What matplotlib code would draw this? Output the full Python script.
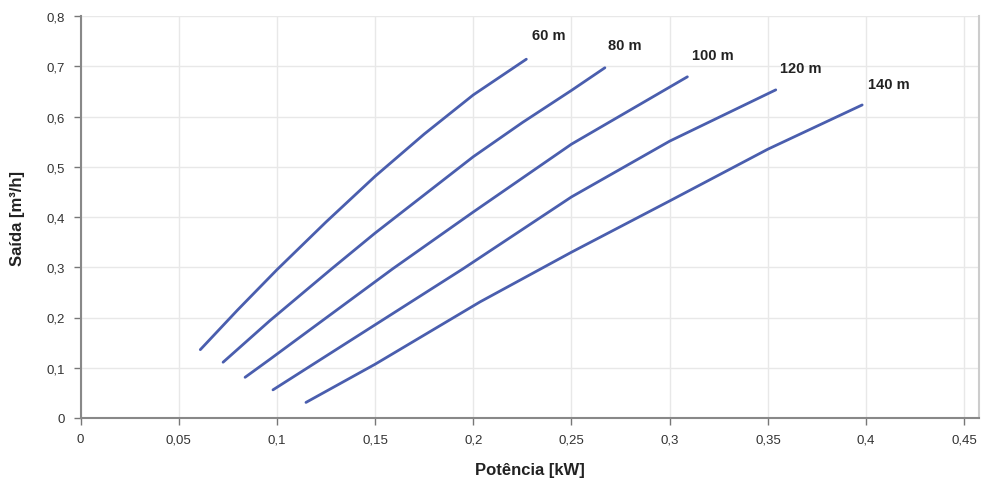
import matplotlib
matplotlib.use("Agg")
import matplotlib.pyplot as plt
from matplotlib.ticker import FuncFormatter

plt.rcParams['font.family'] = ['Liberation Sans', 'DejaVu Sans']

# curves: power [kW] vs flow [m3/h]
x_60 = [0.061, 0.080, 0.100, 0.125, 0.150, 0.175, 0.200, 0.227]
y_60 = [0.136, 0.215, 0.295, 0.390, 0.481, 0.565, 0.643, 0.714]

x_80 = [0.0726, 0.0965, 0.1279, 0.150, 0.200, 0.225, 0.250, 0.267]
y_80 = [0.111, 0.194, 0.297, 0.368, 0.520, 0.588, 0.652, 0.697]

x_100 = [0.0838, 0.0965, 0.159, 0.200, 0.250, 0.309]
y_100 = [0.081, 0.117, 0.297, 0.410, 0.545, 0.679]

x_120 = [0.098, 0.1948, 0.250, 0.300, 0.354]
y_120 = [0.056, 0.297, 0.440, 0.551, 0.653]

x_140 = [0.1148, 0.150, 0.2034, 0.250, 0.300, 0.350, 0.398]
y_140 = [0.031, 0.107, 0.231, 0.330, 0.432, 0.535, 0.623]

curve_labels = ["60 m", "80 m", "100 m", "120 m", "140 m"]
label_x = [0.230, 0.2686, 0.3114, 0.356, 0.401]
label_y = [0.762, 0.742, 0.722, 0.697, 0.664]

x_ticks = [0, 0.05, 0.1, 0.15, 0.2, 0.25, 0.3, 0.35, 0.4, 0.45]
y_ticks = [0, 0.1, 0.2, 0.3, 0.4, 0.5, 0.6, 0.7, 0.8]

line_color = "#4a5eae"

fig = plt.figure(figsize=(9.87, 4.81), dpi=100)
ax = fig.add_axes([80.5 / 987, 1 - 419 / 481, (979 - 80.5) / 987, (419 - 17) / 481])

curves = [(x_60, y_60), (x_80, y_80), (x_100, y_100), (x_120, y_120), (x_140, y_140)]
for (xs, ys), name, lx, ly in zip(curves, curve_labels, label_x, label_y):
    ax.plot(xs, ys, color=line_color, lw=2.0, solid_capstyle='round',
            solid_joinstyle='round')
    ax.text(lx, ly, name, fontsize=10.5, fontweight='bold', color='#222222',
            ha='left', va='center')

ax.set_xlim(0, (979 - 80.5) / 1964)
ax.set_ylim(0, 0.8)
ax.set_xticks(x_ticks)
ax.set_yticks(y_ticks)

comma = FuncFormatter(lambda v, p: ("%g" % v).replace(".", ","))
ax.xaxis.set_major_formatter(comma)
ax.yaxis.set_major_formatter(comma)

ax.grid(True, color='#e8e8e8', lw=1.0)
ax.set_axisbelow(True)
ax.tick_params(axis='both', direction='out', length=5, width=1, color='#777777',
               labelsize=9.5, labelcolor='#333333', pad=6)

for side in ['left', 'bottom']:
    ax.spines[side].set_color('#888888')
    ax.spines[side].set_linewidth(1.5)
ax.spines['right'].set_color('#cccccc')
ax.spines['right'].set_linewidth(1.5)
ax.spines['top'].set_visible(False)

ax.set_xlabel("Potência [kW]", fontsize=12, fontweight='bold', color='#222222', labelpad=12)
ax.set_ylabel("Saída [m³/h]", fontsize=12, fontweight='bold', color='#222222', labelpad=16)

fig.savefig("out.png", dpi=100)
